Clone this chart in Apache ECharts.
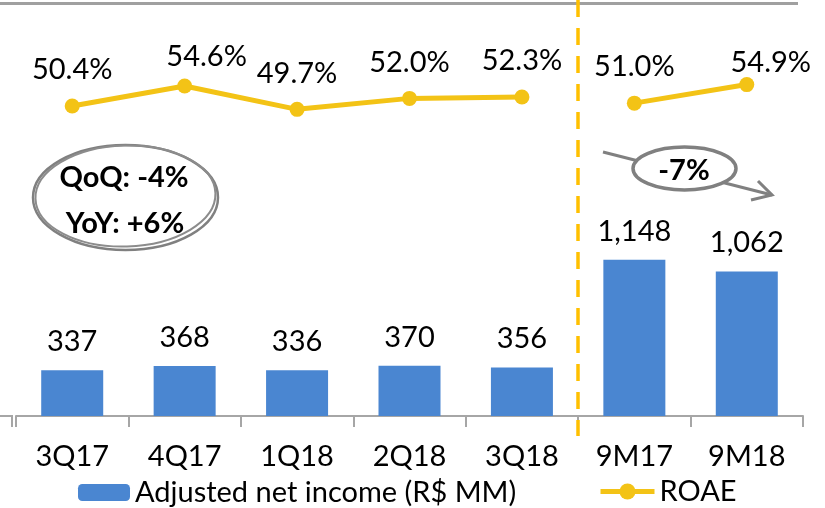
<!DOCTYPE html>
<html>
<head>
<meta charset="utf-8">
<script src="https://cdn.jsdelivr.net/npm/echarts@6/dist/echarts.min.js"></script>
<style>
  html, body { margin: 0; padding: 0; background: #fff; }
  #main { width: 825px; height: 508px; }
</style>
</head>
<body>
<div id="main"></div>
<script>
var categories = ['3Q17', '4Q17', '1Q18', '2Q18', '3Q18', '9M17', '9M18'];
var netIncome = [337, 368, 336, 370, 356, 1148, 1062];
var roaeQuarters = [50.4, 54.6, 49.7, 52.0, 52.3, '-', '-'];
var roaeNineMonths = ['-', '-', '-', '-', '-', 51.0, 54.9];
// label nudges for the two peaks (the slide moved them a bit)
var roaeLabelShift = [null, [22, 7], null, null, null, null, [24, 14]];

var FONT = 'Lato';
var FS = 29;
var blue = '#4A86D1';
var yellow = '#F3C316';

function roaeData(arr) {
  return arr.map(function (v, i) {
    if (v === '-' || !roaeLabelShift[i]) return v;
    return { value: v, label: { offset: roaeLabelShift[i] } };
  });
}

var roaeLabel = {
  show: true, position: 'top', distance: 14,
  fontSize: FS, color: '#000', fontFamily: FONT,
  formatter: function (p) { return p.value.toFixed(1) + '%'; }
};

var myChart = echarts.init(document.getElementById('main'));
var option = {
  backgroundColor: '#fff',
  animation: false,
  textStyle: { fontFamily: FONT },
  grid: [
    { left: 16, right: 22, top: 8, height: 408 },
    { left: 16, right: 22, top: 60.3, height: 95.2 }
  ],
  legend: [
    {
      data: ['Adjusted net income (R$ MM)'],
      left: 73, top: 473, itemGap: 5,
      itemWidth: 52, itemHeight: 17,
      textStyle: { fontFamily: FONT, fontSize: FS, color: '#000' }
    },
    {
      data: ['ROAE'],
      left: 593, top: 472,
      itemWidth: 54, itemHeight: 20,
      lineStyle: { width: 5 },
      textStyle: { fontFamily: FONT, fontSize: FS, color: '#000' }
    }
  ],
  xAxis: [
    {
      type: 'category', gridIndex: 0, data: categories,
      axisLine: { lineStyle: { color: '#a6a6a6', width: 2 } },
      axisTick: { show: true, length: 11, lineStyle: { color: '#a6a6a6', width: 2 } },
      axisLabel: { margin: 26, fontSize: FS, color: '#000', fontFamily: FONT }
    },
    {
      type: 'category', gridIndex: 1, data: categories, show: false
    }
  ],
  yAxis: [
    { type: 'value', gridIndex: 0, min: 0, max: 3000, show: false, splitLine: { show: false } },
    { type: 'value', gridIndex: 1, min: 40, max: 60, show: false, splitLine: { show: false } }
  ],
  series: [
    {
      name: 'Adjusted net income (R$ MM)',
      type: 'bar',
      xAxisIndex: 0, yAxisIndex: 0,
      barWidth: 62,
      itemStyle: { color: blue },
      label: {
        show: true, position: 'top', distance: 14,
        fontSize: FS, color: '#000', fontFamily: FONT,
        formatter: function (p) { return p.value.toLocaleString('en-US'); }
      },
      data: netIncome
    },
    {
      name: 'ROAE',
      type: 'line',
      xAxisIndex: 1, yAxisIndex: 1,
      symbol: 'circle', symbolSize: 15,
      lineStyle: { color: yellow, width: 5 },
      itemStyle: { color: yellow },
      label: roaeLabel,
      data: roaeData(roaeQuarters)
    },
    {
      name: 'ROAE',
      type: 'line',
      xAxisIndex: 1, yAxisIndex: 1,
      symbol: 'circle', symbolSize: 15,
      lineStyle: { color: yellow, width: 5 },
      itemStyle: { color: yellow },
      label: roaeLabel,
      data: roaeData(roaeNineMonths)
    }
  ],
  graphic: [
    // slide rule at the top
    { type: 'line', z: 1, shape: { x1: 0, y1: 3.5, x2: 798, y2: 3.5 }, style: { stroke: '#a0a0a0', lineWidth: 3 } },
    // quarter / nine-month separator
    { type: 'line', z: 50, shape: { x1: 578, y1: 0, x2: 578, y2: 436 }, style: { stroke: '#FFC000', lineWidth: 3.5, lineDash: [17, 11] } },
    // stray axis stub on the left
    { type: 'polyline', z: 1, shape: { points: [[0, 416], [12, 416], [12, 427]] }, style: { stroke: '#a6a6a6', lineWidth: 2, fill: null } },
    // QoQ / YoY bubble (sketchy)
    { type: 'ellipse', z: 40, shape: { cx: 125.5, cy: 197.5, rx: 92.5, ry: 52.5 }, style: { stroke: '#808080', lineWidth: 2.5, fill: '#fff' } },
    { type: 'ellipse', z: 41, rotation: 0.03, originX: 125.5, originY: 197.5, shape: { cx: 125.5, cy: 196, rx: 90, ry: 50.5 }, style: { stroke: '#8c8c8c', lineWidth: 2, fill: null } },
    { type: 'text', z: 42, style: { x: 124, y: 178, text: 'QoQ: -4%', align: 'center', verticalAlign: 'middle', font: 'bold ' + FS + 'px Lato', fill: '#000' } },
    { type: 'text', z: 42, style: { x: 125, y: 224, text: 'YoY: +6%', align: 'center', verticalAlign: 'middle', font: 'bold ' + FS + 'px Lato', fill: '#000' } },
    // -7% arrow
    { type: 'line', z: 40, shape: { x1: 603, y1: 152, x2: 772, y2: 195 }, style: { stroke: '#808080', lineWidth: 3 } },
    { type: 'polyline', z: 40, shape: { points: [[758, 181], [772, 195], [751, 200]] }, style: { stroke: '#808080', lineWidth: 3, fill: null } },
    { type: 'ellipse', z: 41, shape: { cx: 684.5, cy: 168.5, rx: 51.5, ry: 21.5 }, style: { stroke: '#808080', lineWidth: 3.5, fill: '#fff' } },
    { type: 'text', z: 42, style: { x: 684, y: 171, text: '-7%', align: 'center', verticalAlign: 'middle', font: 'bold ' + FS + 'px Lato', fill: '#000' } }
  ]
};
myChart.setOption(option);
</script>
</body>
</html>
